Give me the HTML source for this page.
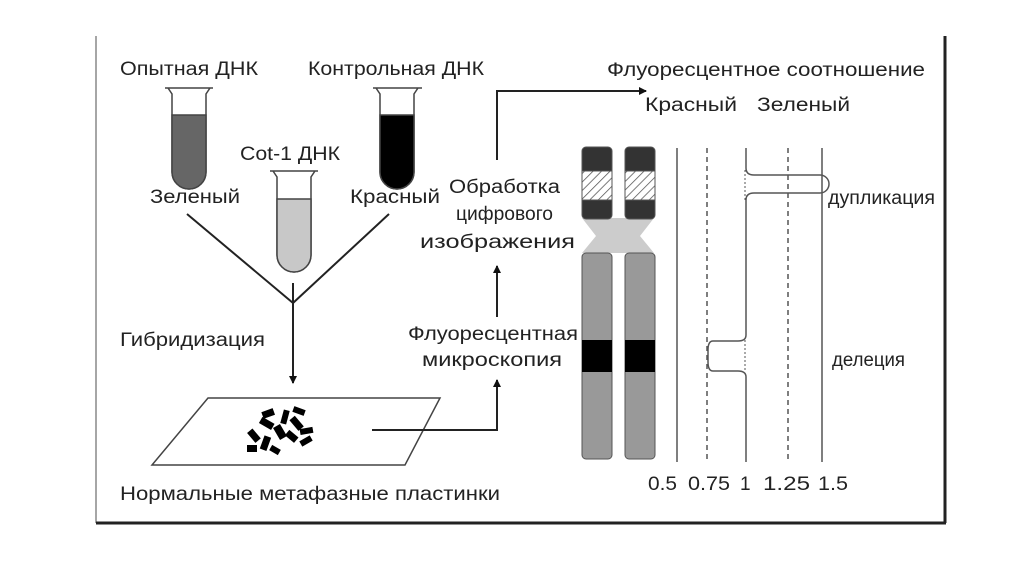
<!DOCTYPE html>
<html><head><meta charset="utf-8"><style>
html,body{margin:0;padding:0;background:#fff;}
svg{display:block;font-family:"Liberation Sans","DejaVu Sans",sans-serif;}
text{fill:#222;font-size:19px;}
</style></head><body>
<svg width="1024" height="574" viewBox="0 0 1024 574" xmlns="http://www.w3.org/2000/svg">
<defs>
<pattern id="h" width="6" height="6" patternUnits="userSpaceOnUse" patternTransform="rotate(45)">
<rect width="6" height="6" fill="#fff"/><line x1="0" y1="0" x2="0" y2="6" stroke="#555" stroke-width="1.5"/></pattern>
<marker id="a" markerWidth="8" markerHeight="8" refX="7" refY="4" orient="auto" markerUnits="userSpaceOnUse"><path d="M0,0 L8,4 L0,8 z" fill="#111"/></marker>
</defs>
<line x1="96" y1="36" x2="96" y2="523" stroke="#888" stroke-width="1.5"/>
<line x1="96" y1="523" x2="946" y2="523" stroke="#222" stroke-width="3"/>
<line x1="945" y1="36" x2="945" y2="523" stroke="#222" stroke-width="3"/>

<text x="120" y="75" textLength="138" lengthAdjust="spacingAndGlyphs">Опытная ДНК</text>
<text x="308" y="75" textLength="176" lengthAdjust="spacingAndGlyphs">Контрольная ДНК</text>
<text x="240" y="160" textLength="100" lengthAdjust="spacingAndGlyphs">Cot-1 ДНК</text>
<text x="150" y="203" textLength="90" lengthAdjust="spacingAndGlyphs">Зеленый</text>
<text x="350" y="203" textLength="90" lengthAdjust="spacingAndGlyphs">Красный</text>

<g stroke="#444" stroke-width="1.5">
<path d="M165,88 H213 M168,88 L172,94 V172 A17,17 0 0 0 206,172 V94 L210,88" fill="#fff"/>
<path d="M172,115 H206 V172 A17,17 0 0 1 172,172 Z" fill="#666"/>
<path d="M373,88 H422 M376,88 L380,94 V172 A17,17 0 0 0 414,172 V94 L418,88" fill="#fff"/>
<path d="M380,115 H414 V172 A17,17 0 0 1 380,172 Z" fill="#000"/>
<path d="M270,171 H318 M273,171 L277,177 V255 A17,17 0 0 0 311,255 V177 L315,171" fill="#fff"/>
<path d="M277,199 H311 V255 A17,17 0 0 1 277,255 Z" fill="#c8c8c8"/>
</g>

<g stroke="#222" stroke-width="2" fill="none">
<line x1="187" y1="214" x2="293" y2="303"/>
<line x1="389" y1="214" x2="293" y2="303"/>
<line x1="293" y1="283" x2="293" y2="383" marker-end="url(#a)"/>
</g>
<text x="120" y="346" textLength="145" lengthAdjust="spacingAndGlyphs">Гибридизация</text>

<path d="M208,398 H440 L405,465 H152 Z" fill="none" stroke="#444" stroke-width="1.5"/>
<g fill="#000">
<rect x="262" y="410" width="12" height="7" transform="rotate(-20 268 413)"/>
<rect x="282" y="410" width="6" height="14" transform="rotate(15 285 417)"/>
<rect x="293" y="408" width="12" height="6" transform="rotate(20 299 411)"/>
<rect x="260" y="420" width="14" height="7" transform="rotate(30 267 423)"/>
<rect x="276" y="425" width="8" height="14" transform="rotate(-30 280 432)"/>
<rect x="290" y="420" width="14" height="7" transform="rotate(50 297 423)"/>
<rect x="300" y="428" width="13" height="6" transform="rotate(-10 306 431)"/>
<rect x="248" y="432" width="13" height="7" transform="rotate(50 254 435)"/>
<rect x="262" y="436" width="7" height="14" transform="rotate(20 265 443)"/>
<rect x="286" y="433" width="12" height="7" transform="rotate(40 292 436)"/>
<rect x="300" y="438" width="12" height="6" transform="rotate(-30 306 441)"/>
<rect x="247" y="445" width="10" height="7"/>
<rect x="270" y="447" width="10" height="6" transform="rotate(30 275 450)"/>
</g>
<text x="120" y="500" textLength="380" lengthAdjust="spacingAndGlyphs">Нормальные метафазные пластинки</text>

<g stroke="#222" stroke-width="2" fill="none">
<path d="M372,430 H497 V380" marker-end="url(#a)"/>
<line x1="497" y1="317" x2="497" y2="266" marker-end="url(#a)"/>
<path d="M497,160 V91 H646" marker-end="url(#a)"/>
</g>
<text x="449" y="193" textLength="111" lengthAdjust="spacingAndGlyphs">Обработка</text>
<text x="456" y="220" textLength="97" lengthAdjust="spacingAndGlyphs">цифрового</text>
<text x="420" y="248" textLength="155" lengthAdjust="spacingAndGlyphs">изображения</text>
<text x="408" y="340" textLength="170" lengthAdjust="spacingAndGlyphs">Флуоресцентная</text>
<text x="422" y="366" textLength="140" lengthAdjust="spacingAndGlyphs">микроскопия</text>

<text x="607" y="76" textLength="318" lengthAdjust="spacingAndGlyphs">Флуоресцентное соотношение</text>
<text x="645" y="111" textLength="92" lengthAdjust="spacingAndGlyphs">Красный</text>
<text x="757" y="111" textLength="93" lengthAdjust="spacingAndGlyphs">Зеленый</text>

<g stroke="#555" stroke-width="1">
<path d="M582,218 L596,236 L582,253 H654 L640,236 L654,218 Z" fill="#ccc" stroke="none"/>
<rect x="582" y="147" width="30" height="72" rx="4" fill="#333"/>
<rect x="582" y="171" width="30" height="29" fill="url(#h)"/>
<rect x="582" y="253" width="30" height="206" rx="4" fill="#999"/>
<rect x="582" y="340" width="30" height="32" fill="#000" stroke="none"/>
<rect x="625" y="147" width="30" height="72" rx="4" fill="#333"/>
<rect x="625" y="171" width="30" height="29" fill="url(#h)"/>
<rect x="625" y="253" width="30" height="206" rx="4" fill="#999"/>
<rect x="625" y="340" width="30" height="32" fill="#000" stroke="none"/>
</g>

<g stroke="#555" stroke-width="1.5" fill="none">
<line x1="677" y1="148" x2="677" y2="462"/>
<line x1="707" y1="148" x2="707" y2="462" stroke-dasharray="5,4"/>
<line x1="788" y1="148" x2="788" y2="462" stroke-dasharray="5,4"/>
<line x1="822" y1="148" x2="822" y2="462"/>
<line x1="746" y1="148" x2="746" y2="168"/>
<path d="M746,168 Q746,175 754,175 H820 A9,9 0 0 1 820,193 H754 Q746,193 746,200 V335 Q746,341 738,341 H713 Q708,341 708,350 V362 Q708,371 713,371 H738 Q746,371 746,377 V462"/>
<line x1="745" y1="170" x2="745" y2="200" stroke-dasharray="2,2" stroke-width="1"/>
<line x1="745" y1="340" x2="745" y2="372" stroke-dasharray="2,2" stroke-width="1"/>
</g>
<text x="828" y="204" textLength="107" lengthAdjust="spacingAndGlyphs">дупликация</text>
<text x="832" y="366" textLength="73" lengthAdjust="spacingAndGlyphs">делеция</text>

<text x="648" y="490" textLength="29" lengthAdjust="spacingAndGlyphs">0.5</text>
<text x="688" y="490" textLength="42" lengthAdjust="spacingAndGlyphs">0.75</text>
<text x="740" y="490">1</text>
<text x="763" y="490" textLength="47" lengthAdjust="spacingAndGlyphs">1.25</text>
<text x="818" y="490" textLength="30" lengthAdjust="spacingAndGlyphs">1.5</text>
</svg>
</body></html>
